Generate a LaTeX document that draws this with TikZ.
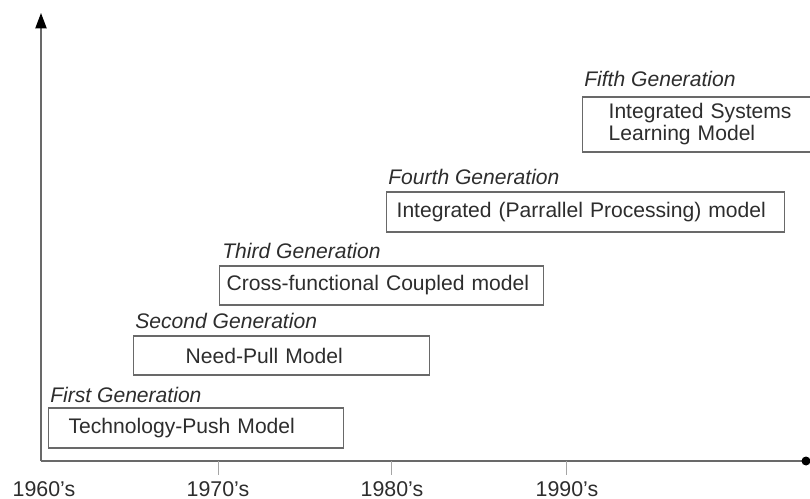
\documentclass[tikz,border=0pt]{standalone}
\usepackage{fontspec}
\setmainfont{Liberation Sans}
\definecolor{boxgray}{RGB}{105,105,105}
\definecolor{textgray}{RGB}{45,45,45}
\definecolor{tickgray}{RGB}{165,165,165}
\usetikzlibrary{arrows.meta, positioning}

\begin{document}
\begin{tikzpicture}[x=0.025cm, y=-0.025cm,
  genbox/.style={draw=boxgray, line width=0.9pt, anchor=west, align=left, inner ysep=0pt,
    font=\fontsize{15}{15.6}\selectfont, text=textgray},
  genlabel/.style={anchor=base west, inner sep=0pt, font=\fontsize{15}{18}\selectfont\itshape, text=textgray},
  yearlabel/.style={anchor=base, inner sep=0pt, font=\fontsize{15.2}{18}\selectfont, text=textgray},
  axisline/.style={draw=boxgray, line width=1.1pt}]
  \path[use as bounding box] (0,0) rectangle (810,499);
  \clip (0,0) rectangle (810,499);

  % axes
  \coordinate (origin) at (41,461);
  \coordinate (ytop) at (41,13);
  \coordinate (xend) at (806,461);
  \draw[axisline, -{Triangle[length=11pt, width=8pt, color=black]}] (origin) -- (ytop);
  \draw[axisline] (origin) -- (xend);
  \fill[black] (xend) circle (4.5);

  % decades
  \node[yearlabel] (y60) at (44,496) {1960’s};
  \node[yearlabel] (y70) at (218,496) {1970’s};
  \node[yearlabel] (y80) at (392,496) {1980’s};
  \node[yearlabel] (y90) at (567,496) {1990’s};
  \foreach \t in {218,391,566}
    \draw[tickgray, line width=0.7pt] (\t,461) -- (\t,475);

  % generations
  \node[genbox, minimum height=1cm, text width=6.375cm, inner xsep=0.5cm] (first) at (48,428) {Technology-Push Model};
  \node[genlabel] (firstlab) at (50,402) {First Generation};

  \node[genbox, minimum height=0.975cm, text width=4.8cm, inner xsep=1.3cm] (second) at (133,355.5) {Need-Pull Model};
  \node[genlabel] (secondlab) at (135,328) {Second Generation};

  \node[genbox, minimum height=0.975cm, text width=7.75cm, inner xsep=0.175cm] (third) at (219,285.5) {Cross-functional Coupled model};
  \node[genlabel] (thirdlab) at (222,258) {Third Generation};

  \node[genbox, minimum height=1cm, text width=9.45cm, inner xsep=0.25cm] (fourth) at (386,212) {Integrated (Parrallel Processing) model};
  \node[genlabel] (fourthlab) at (388,185) {Fourth Generation};

  \node[genbox, minimum height=1.375cm, text width=5.3cm, inner xsep=0.65cm] (fifth) at (582,124.5) {Integrated Systems\\Learning Model};
  \node[genlabel] (fifthlab) at (584,87) {Fifth Generation};
\end{tikzpicture}
\end{document}
